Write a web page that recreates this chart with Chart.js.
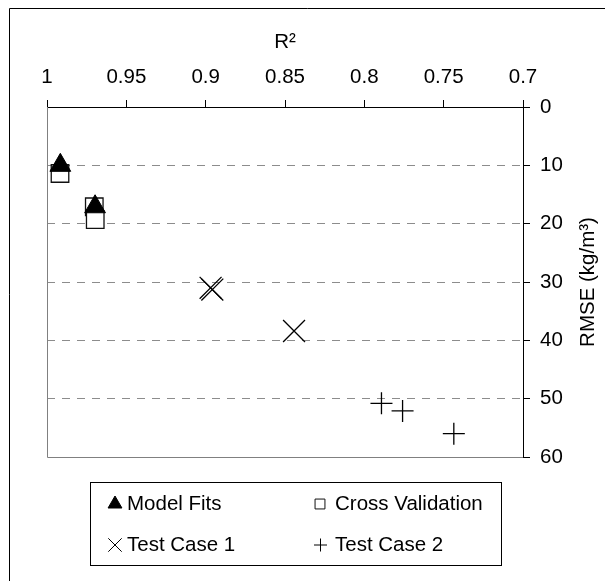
<!DOCTYPE html>
<html>
<head>
<meta charset="utf-8">
<script src="https://cdn.jsdelivr.net/npm/chart.js@4.4.1/dist/chart.umd.min.js"></script>
<style>
    html, body { margin: 0; padding: 0; background: #fff; }
</style>
</head>
<body>
<canvas id="rmseChart" width="605" height="581"></canvas>
<script>
// values: R2 on the (reversed) top axis, RMSE on the (reversed) right axis
const modelFitsR2 = [0.9916, 0.9697];
const modelFitsRmse = [10.0, 17.1];
const crossValR2 = [0.9918, 0.9702, 0.9696];
const crossValRmse = [11.4, 17.1, 19.3];
const testCase1R2 = [0.8969, 0.8958, 0.8443];
const testCase1Rmse = [31.0, 31.3, 38.4];
const testCase2R2 = [0.7892, 0.7759, 0.7436];
const testCase2Rmse = [50.8, 52.1, 56.0];

const seriesNames = ['Model Fits', 'Cross Validation', 'Test Case 1', 'Test Case 2'];
const r2Range = [0.7, 1, 0.05];     // min, max, step
const rmseRange = [0, 60, 10];

const FONT = "'Liberation Sans', Arial, sans-serif";
const FONT_SIZE = 20.5;

function toPoints(xs, ys) {
    return xs.map((x, i) => ({ x: x, y: ys[i] }));
}

/*------------------frame, plot borders, y title and legend------------------------*/
const extras = {
    id: 'extras',
    beforeDatasetsDraw(chart) {
        const { ctx, chartArea: a } = chart;
        ctx.save();
        ctx.strokeStyle = '#808080';
        ctx.lineWidth = 1;
        ctx.beginPath();
        ctx.moveTo(Math.round(a.left) + 0.5, a.top);
        ctx.lineTo(Math.round(a.left) + 0.5, Math.round(a.bottom) + 0.5);
        ctx.lineTo(a.right, Math.round(a.bottom) + 0.5);
        ctx.stroke();
        ctx.restore();
    },
    afterDraw(chart) {
        const { ctx, chartArea: a } = chart;
        ctx.save();

        // outer frame (only top and left edges are inside the picture)
        ctx.strokeStyle = '#000';
        ctx.lineWidth = 1;
        ctx.beginPath();
        ctx.moveTo(9.5, 581);
        ctx.lineTo(9.5, 8.5);
        ctx.lineTo(605, 8.5);
        ctx.stroke();

        // right axis title, reading bottom to top
        ctx.fillStyle = '#000';
        ctx.font = FONT_SIZE + 'px ' + FONT;
        ctx.textAlign = 'center';
        ctx.textBaseline = 'middle';
        ctx.translate(588, (a.top + a.bottom) / 2);
        ctx.rotate(-Math.PI / 2);
        ctx.fillText('RMSE (kg/m\u00B3)', 0, 0);
        ctx.setTransform(1, 0, 0, 1, 0, 0);

        // legend box
        ctx.strokeStyle = '#000';
        ctx.strokeRect(90.5, 482.5, 411, 83);

        const items = [
            { ds: 0, x: 115, y: 504, r: 8, gap: 12 },
            { ds: 1, x: 320, y: 504, r: 7, gap: 15 },
            { ds: 2, x: 115, y: 545, r: 9.5, gap: 12 },
            { ds: 3, x: 320.5, y: 545, r: 6.5, gap: 14.5 }
        ];
        items.forEach(item => {
            const ds = chart.data.datasets[item.ds];
            ctx.fillStyle = ds.backgroundColor;
            ctx.strokeStyle = ds.borderColor;
            ctx.lineWidth = 1;
            Chart.helpers.drawPoint(ctx, {
                pointStyle: ds.pointStyle, radius: item.r, rotation: 0, borderWidth: 1
            }, item.x, item.y);
            ctx.fillStyle = '#000';
            ctx.textAlign = 'left';
            ctx.textBaseline = 'middle';
            ctx.fillText(seriesNames[item.ds], item.x + item.gap, item.y);
        });
        ctx.restore();
    }
};

const ctx = document.getElementById('rmseChart').getContext('2d');
new Chart(ctx, {
    type: 'scatter',
    data: {
        datasets: [{
            label: seriesNames[0],
            data: toPoints(modelFitsR2, modelFitsRmse),
            pointStyle: 'triangle',
            radius: 12,
            backgroundColor: '#000',
            borderColor: '#000',
            borderWidth: 1
        }, {
            label: seriesNames[1],
            data: toPoints(crossValR2, crossValRmse),
            pointStyle: 'rect',
            radius: 12.4,
            backgroundColor: '#fff',
            borderColor: '#111',
            borderWidth: 1.3
        }, {
            label: seriesNames[2],
            data: toPoints(testCase1R2, testCase1Rmse),
            pointStyle: 'crossRot',
            radius: 15.5,
            backgroundColor: '#000',
            borderColor: '#000',
            borderWidth: 1.3
        }, {
            label: seriesNames[3],
            data: toPoints(testCase2R2, testCase2Rmse),
            pointStyle: 'cross',
            radius: 11,
            backgroundColor: '#000',
            borderColor: '#000',
            borderWidth: 1.3
        }]
    },
    options: {
        responsive: false,
        animation: false,
        events: [],
        layout: { padding: { left: 47, right: 0, top: 0, bottom: 124 } },
        plugins: {
            legend: { display: false },
            tooltip: { enabled: false }
        },
        scales: {
            x: {
                type: 'linear',
                position: 'top',
                reverse: true,
                min: r2Range[0],
                max: r2Range[1],
                afterFit: scale => { scale.height = 107; },
                ticks: {
                    stepSize: r2Range[2],
                    autoSkip: false,
                    maxRotation: 0,
                    padding: 10,
                    color: '#000',
                    font: { family: FONT, size: FONT_SIZE },
                    callback: v => String(Math.round(v * 100) / 100)
                },
                grid: {
                    drawOnChartArea: false,
                    tickLength: 7,
                    tickColor: '#000'
                },
                border: { display: true, color: '#000', width: 1 },
                title: {
                    display: true,
                    text: 'R\u00B2',
                    color: '#000',
                    font: { family: FONT, size: FONT_SIZE },
                    padding: { top: 30, bottom: 0 }
                }
            },
            y: {
                type: 'linear',
                position: 'right',
                reverse: true,
                min: rmseRange[0],
                max: rmseRange[1],
                afterFit: scale => { scale.width = 82; },
                ticks: {
                    stepSize: rmseRange[2],
                    padding: 10,
                    color: '#000',
                    font: { family: FONT, size: FONT_SIZE }
                },
                grid: {
                    color: c => (c.tick && (c.tick.value === rmseRange[0] || c.tick.value === rmseRange[1])) ? 'rgba(0,0,0,0)' : '#8c8c8c',
                    lineWidth: 1,
                    tickLength: 7,
                    tickColor: '#000'
                },
                border: { display: true, color: '#000', width: 1, dash: [8, 7] }
            }
        }
    },
    plugins: [extras]
});
</script>
</body>
</html>
